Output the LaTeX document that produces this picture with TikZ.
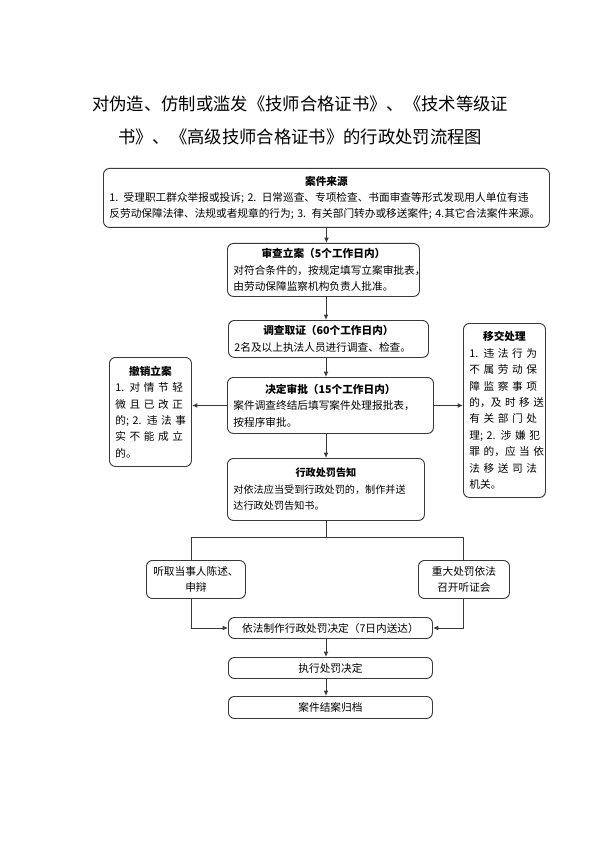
\documentclass[tikz,border=0pt]{standalone}
\usepackage{fontspec}
\setmainfont{Noto Sans CJK SC}
\usetikzlibrary{arrows.meta}

\definecolor{linegray}{HTML}{3A3A3A}
\newcommand{\bodyfont}{\fontsize{8pt}{12.3pt}\selectfont}
\newcommand{\boxhead}[1]{\makebox[\linewidth]{\bfseries #1}}
\newcommand{\spreadline}[1]{\makebox[\linewidth][s]{#1}}

\begin{document}
\begin{tikzpicture}[x=0.75pt, y=-0.75pt, every node/.style={font=\bodyfont}, >={Latex[length=4pt,width=3.5pt]},
	flowbox/.style={draw=linegray, line width=0.7pt, rounded corners=4.5pt, anchor=north west, inner xsep=4.5pt, inner ysep=0pt, align=left},
	link/.style={draw=linegray, line width=0.7pt}]
	\useasboundingbox (0,0) rectangle (600,848);
	\node[font=\fontsize{13pt}{24.75pt}\selectfont, align=center] (title) at (300,120) {对伪造、仿制或滥发《技师合格证书》、《技术等级证\\书》、《高级技师合格证书》的行政处罚流程图};

	\node[flowbox, minimum width=334.5pt, minimum height=44.25pt, text width=325.5pt] (src) at (103,168) {\boxhead{案件来源}\\\spreadline{1. 受理职工群众举报或投诉; 2. 日常巡查、专项检查、书面审查等形式发现用人单位有违}\\\spreadline{反劳动保障法律、法规或者规章的行为; 3. 有关部门转办或移送案件; 4.其它合法案件来源。}};
	\node[flowbox, minimum width=144pt, minimum height=39.75pt, text width=135pt] (accept) at (227,243) {\boxhead{审查立案（5个工作日内）}\\对符合条件的，按规定填写立案审批表，\\由劳动保障监察机构负责人批准。};
	\node[flowbox, minimum width=150pt, minimum height=27.75pt, text width=141pt] (invest) at (228,320) {\boxhead{调查取证（60个工作日内）}\\2名及以上执法人员进行调查、检查。};
	\node[flowbox, minimum width=154.5pt, minimum height=42pt, text width=145.5pt] (decide) at (227,377) {\boxhead{决定审批（15个工作日内）}\\案件调查终结后填写案件处理报批表，\\按程序审批。};
	\node[flowbox, minimum width=61.5pt, minimum height=81.75pt, text width=52.5pt] (cancel) at (109,357) {\boxhead{撤销立案}\\\spreadline{1. 对 情 节 轻}\\\spreadline{微 且 已 改 正}\\\spreadline{的; 2. 违 法 事}\\\spreadline{实 不 能 成 立}\\的。};
	\node[flowbox, minimum width=61.5pt, minimum height=130.5pt, text width=52.5pt] (transfer) at (463,323) {\boxhead{移交处理}\\\spreadline{1. 违 法 行 为}\\\spreadline{不 属 劳 动 保}\\\spreadline{障 监 察 事 项}\\\spreadline{的，及 时 移 送}\\\spreadline{有 关 部 门 处}\\\spreadline{理; 2. 涉 嫌 犯}\\\spreadline{罪 的，应 当 依}\\\spreadline{法 移 送 司 法}\\机关。};
	\node[flowbox, minimum width=147.75pt, minimum height=46.5pt, text width=138.75pt, font=\fontsize{7.6pt}{12.3pt}\selectfont] (notice) at (227,458) {\boxhead{行政处罚告知}\\对依法应当受到行政处罚的，制作并送\\达行政处罚告知书。};
	\node[flowbox, minimum width=74.25pt, minimum height=28.5pt, align=center] (hear) at (146,560) {听取当事人陈述、\\申辩};
	\node[flowbox, minimum width=68.25pt, minimum height=28.5pt, align=center] (hearing) at (418,560) {重大处罚依法\\召开听证会};
	\node[flowbox, minimum width=153pt, minimum height=15.75pt, align=center] (decision) at (228,617) {依法制作行政处罚决定（7日内送达）};
	\node[flowbox, minimum width=153pt, minimum height=15.75pt, align=center] (exec) at (228,657) {执行处罚决定};
	\node[flowbox, minimum width=153pt, minimum height=16.5pt, align=center] (archive) at (228,696) {案件结案归档};

	\coordinate (spine) at (326,0);
	\coordinate (fork) at (326,537);
	\coordinate (forkL) at (191,537);
	\coordinate (forkR) at (463,537);
	\draw[link,->] (src.south) -- (src.south |- accept.north);
	\draw[link,->] (spine |- accept.south) -- (spine |- invest.north);
	\draw[link,->] (spine |- invest.south) -- (spine |- decide.north);
	\draw[link,->] (decide.west) -- (decide.west -| cancel.east);
	\draw[link,->] (decide.east) -- (decide.east -| transfer.west);
	\draw[link,->] (spine |- decide.south) -- (spine |- notice.north);
	\draw[link] (spine |- notice.south) -- (fork);
	\draw[link] (forkL) -- (forkR);
	\draw[link] (forkL) -- (forkL |- hear.north);
	\draw[link] (forkR) -- (forkR |- hearing.north);
	\draw[link,->] (forkL |- hear.south) |- (decision.west);
	\draw[link,->] (forkR |- hearing.south) |- (decision.east);
	\draw[link,->] (spine |- decision.south) -- (spine |- exec.north);
	\draw[link,->] (spine |- exec.south) -- (spine |- archive.north);
\end{tikzpicture}
\end{document}
